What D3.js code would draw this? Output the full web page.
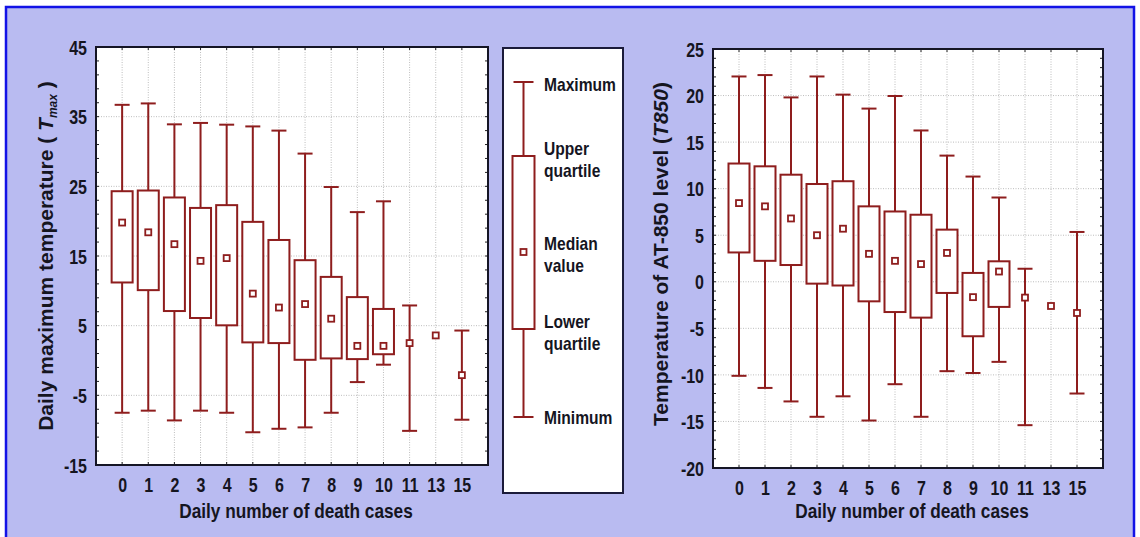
<!DOCTYPE html>
<html>
<head>
<meta charset="utf-8">
<script src="https://cdn.jsdelivr.net/npm/d3@7"></script>
<style>
  body { margin: 0; background: #ffffff; }
  svg text { font-family: "Liberation Sans Narrow", "Arial Narrow", "Liberation Sans", sans-serif; font-weight: bold; fill: #15151f; }
  svg text.wide { font-family: "Liberation Sans", Arial, sans-serif; }
</style>
</head>
<body>
<svg id="chart" width="1140" height="537"></svg>
<script>
// Daily number of death cases (groups on the x axis)
const categories = ["0", "1", "2", "3", "4", "5", "6", "7", "8", "9", "10", "11", "13", "15"];

// Daily maximum temperature, Tmax (°C)
const tmaxMin    = [-7.5, -7.2, -8.6, -7.2, -7.5, -10.3, -9.8, -9.6, -7.5, -3.1, -0.6, -10.1, null, -8.5];
const tmaxQ1     = [11.2, 10.1, 7.1, 6.1, 5.05, 2.6, 2.5, 0.1, 0.3, 0.2, 0.9, null, null, null];
const tmaxMedian = [19.8, 18.4, 16.7, 14.3, 14.7, 9.6, 7.6, 8.1, 6.0, 2.1, 2.1, 2.5, 3.6, -2.1];
const tmaxQ3     = [24.3, 24.4, 23.4, 21.9, 22.3, 19.9, 17.3, 14.4, 12.0, 9.1, 7.4, null, null, null];
const tmaxMax    = [36.7, 36.9, 33.9, 34.1, 33.85, 33.6, 33.0, 29.7, 24.9, 21.3, 22.85, 7.9, null, 4.3];
const tmaxTicks  = [-15, -5, 5, 15, 25, 35, 45];

// Temperature at the 850 hPa level, T850 (°C)
const t850Min    = [-10.1, -11.4, -12.85, -14.5, -12.3, -14.9, -11.0, -14.5, -9.6, -9.8, -8.6, -15.4, null, -12.0];
const t850Q1     = [3.15, 2.25, 1.8, -0.2, -0.4, -2.1, -3.25, -3.85, -1.2, -5.85, -2.7, null, null, null];
const t850Median = [8.45, 8.1, 6.8, 5.0, 5.7, 3.0, 2.25, 1.9, 3.1, -1.65, 1.1, -1.7, -2.6, -3.35];
const t850Q3     = [12.7, 12.4, 11.5, 10.5, 10.8, 8.1, 7.55, 7.2, 5.6, 0.95, 2.2, null, null, null];
const t850Max    = [22.05, 22.2, 19.8, 22.05, 20.1, 18.6, 19.95, 16.25, 13.55, 11.3, 9.05, 1.4, null, 5.35];
const t850Ticks  = [-20, -15, -10, -5, 0, 5, 10, 15, 20, 25];

// Legend entries (top to bottom)
const legendLabels = [["Maximum"], ["Upper", "quartile"], ["Median", "value"], ["Lower", "quartile"], ["Minimum"]];

const BOX = "#8e1d1d";
const svg = d3.select("#chart");

// squeeze a text element horizontally, giving it a narrow-face look
function condense(sel, k) {
  sel.each(function () {
    const w = this.getComputedTextLength();
    d3.select(this).attr("textLength", (w * k).toFixed(1)).attr("lengthAdjust", "spacingAndGlyphs");
  });
}

// page background with its blue frame
svg.append("rect").attr("x", 6).attr("y", 7).attr("width", 1128).attr("height", 540)
  .attr("fill", "#b9bbf1").attr("stroke", "#1212e6").attr("stroke-width", 2.5);

function buildRows(mins, q1s, meds, q3s, maxs) {
  return categories.map((c, i) => ({ cat: c, min: mins[i], q1: q1s[i], med: meds[i], q3: q3s[i], max: maxs[i] }));
}

function drawPanel(opt) {
  const { left, right, top, bottom, domain, ticks, minorStep, rows } = opt;
  const g = svg.append("g");
  const x = d3.scalePoint().domain(categories).range([left, right]).padding(1);
  const y = d3.scaleLinear().domain(domain).range([bottom, top]);

  g.append("rect").attr("x", left).attr("y", top).attr("width", right - left).attr("height", bottom - top)
    .attr("fill", "#ffffff");

  // dotted grid
  const grid = g.append("g").attr("stroke", "#bdbdbd").attr("stroke-width", 1).attr("stroke-dasharray", "1,1.5");
  grid.selectAll("line.v").data(categories).join("line").attr("class", "v")
    .attr("x1", d => x(d)).attr("x2", d => x(d)).attr("y1", top).attr("y2", bottom);
  grid.selectAll("line.h").data(ticks).join("line").attr("class", "h")
    .attr("x1", left).attr("x2", right).attr("y1", d => y(d)).attr("y2", d => y(d));

  // small inward ticks along the frame
  const minor = d3.range(domain[0], domain[1] + 1e-9, minorStep);
  const tk = g.append("g").attr("stroke", "#222").attr("stroke-width", 1);
  tk.selectAll("line.mr").data(minor).join("line").attr("class", "mr")
    .attr("x1", right - 3).attr("x2", right).attr("y1", d => y(d)).attr("y2", d => y(d));
  tk.selectAll("line.ml").data(minor).join("line").attr("class", "ml")
    .attr("x1", left).attr("x2", left + 3).attr("y1", d => y(d)).attr("y2", d => y(d));
  tk.selectAll("line.cb").data(categories).join("line").attr("class", "cb")
    .attr("x1", d => x(d)).attr("x2", d => x(d)).attr("y1", bottom - 3).attr("y2", bottom);
  tk.selectAll("line.ct").data(categories).join("line").attr("class", "ct")
    .attr("x1", d => x(d)).attr("x2", d => x(d)).attr("y1", top).attr("y2", top + 3);

  // axes (labels only; the frame is drawn separately)
  const yAxis = g.append("g").attr("transform", `translate(${left},0)`)
    .call(d3.axisLeft(y).tickValues(ticks).tickSize(0).tickPadding(9).tickFormat(d => String(d)));
  yAxis.select(".domain").remove();
  yAxis.selectAll("text").attr("font-size", 20).attr("dy", "0.36em").call(condense, 0.8);

  const xAxis = g.append("g").attr("transform", `translate(0,${bottom})`)
    .call(d3.axisBottom(x).tickSize(0).tickPadding(13));
  xAxis.select(".domain").remove();
  xAxis.selectAll("text").attr("font-size", 20).attr("dy", "0.72em").call(condense, 0.8);

  // whiskers, boxes and median squares
  const bw = 21, cw = 15, ms = 6;
  const marks = g.append("g").attr("stroke", BOX).attr("stroke-width", 2).attr("fill", "none");
  rows.forEach(r => {
    const cx = x(r.cat);
    const hasBox = r.q1 != null && r.q3 != null;
    if (r.max != null) {
      marks.append("line").attr("x1", cx).attr("x2", cx).attr("y1", y(r.max)).attr("y2", y(hasBox ? r.q3 : r.med));
      marks.append("line").attr("x1", cx - cw / 2).attr("x2", cx + cw / 2).attr("y1", y(r.max)).attr("y2", y(r.max));
    }
    if (r.min != null) {
      marks.append("line").attr("x1", cx).attr("x2", cx).attr("y1", y(hasBox ? r.q1 : r.med)).attr("y2", y(r.min));
      marks.append("line").attr("x1", cx - cw / 2).attr("x2", cx + cw / 2).attr("y1", y(r.min)).attr("y2", y(r.min));
    }
    if (hasBox) {
      marks.append("rect").attr("x", cx - bw / 2).attr("width", bw)
        .attr("y", y(r.q3)).attr("height", y(r.q1) - y(r.q3)).attr("fill", "#ffffff");
    }
    marks.append("rect").attr("x", cx - ms / 2).attr("y", y(r.med) - ms / 2)
      .attr("width", ms).attr("height", ms).attr("fill", "#ffffff").attr("stroke-width", 1.8);
  });

  // frame
  g.append("rect").attr("x", left).attr("y", top).attr("width", right - left).attr("height", bottom - top)
    .attr("fill", "none").attr("stroke", "#151525").attr("stroke-width", 2);

  // x title
  g.append("text").attr("x", (left + right) / 2 + 4).attr("y", 518)
    .attr("text-anchor", "middle").attr("font-size", 21).text("Daily number of death cases")
    .call(condense, 0.82);

  return { x, y, g };
}

// ---- left panel: Tmax ----
const p1 = drawPanel({
  left: 96, right: 488, top: 47, bottom: 465,
  domain: [-15, 45], ticks: tmaxTicks, minorStep: 2,
  rows: buildRows(tmaxMin, tmaxQ1, tmaxMedian, tmaxQ3, tmaxMax)
});
const t1 = p1.g.append("text").attr("class", "wide").attr("font-size", 21).attr("text-anchor", "middle")
  .attr("transform", "translate(53,256) rotate(-90)");
t1.append("tspan").text("Daily maximum temperature ( ");
t1.append("tspan").attr("font-style", "italic").text("T");
t1.append("tspan").attr("font-style", "italic").attr("font-size", 12).attr("dy", 4).text("max");
t1.append("tspan").attr("dy", -4).text(" )");

// ---- right panel: T850 ----
const p2 = drawPanel({
  left: 713, right: 1103, top: 49, bottom: 468,
  domain: [-20, 25], ticks: t850Ticks, minorStep: 1,
  rows: buildRows(t850Min, t850Q1, t850Median, t850Q3, t850Max)
});
const t2 = p2.g.append("text").attr("class", "wide").attr("font-size", 21).attr("text-anchor", "middle")
  .attr("transform", "translate(668,254) rotate(-90)");
t2.append("tspan").text("Temperature of AT-850 level (");
t2.append("tspan").attr("font-style", "italic").text("T850");
t2.append("tspan").text(")");

// ---- legend ----
const lg = svg.append("g");
lg.append("rect").attr("x", 503).attr("y", 48).attr("width", 120).attr("height", 445)
  .attr("fill", "#ffffff").attr("stroke", "#1b1b3a").attr("stroke-width", 2);
// vertical positions of the schematic box: max, upper quartile, median, lower quartile, min
const legY = [82, 156, 252, 329, 417];
const lx = 523.5;
const lm = lg.append("g").attr("stroke", BOX).attr("stroke-width", 2).attr("fill", "none");
lm.append("line").attr("x1", lx).attr("x2", lx).attr("y1", legY[0]).attr("y2", legY[1]);
lm.append("line").attr("x1", lx).attr("x2", lx).attr("y1", legY[3]).attr("y2", legY[4]);
lm.append("line").attr("x1", lx - 10).attr("x2", lx + 10).attr("y1", legY[0]).attr("y2", legY[0]);
lm.append("line").attr("x1", lx - 10).attr("x2", lx + 10).attr("y1", legY[4]).attr("y2", legY[4]);
lm.append("rect").attr("x", lx - 11).attr("width", 22).attr("y", legY[1]).attr("height", legY[3] - legY[1]).attr("fill", "#fff");
lm.append("rect").attr("x", lx - 3).attr("y", legY[2] - 3).attr("width", 6).attr("height", 6).attr("fill", "#fff").attr("stroke-width", 1.8);

const legTextY = [84, 148, 243, 321, 417];
legendLabels.forEach((lines, i) => {
  lines.forEach((s, j) => {
    lg.append("text").attr("x", 544).attr("y", legTextY[i] + j * 22).attr("dy", "0.36em")
      .attr("font-size", 19).text(s).call(condense, 0.82);
  });
});
</script>
</body>
</html>
